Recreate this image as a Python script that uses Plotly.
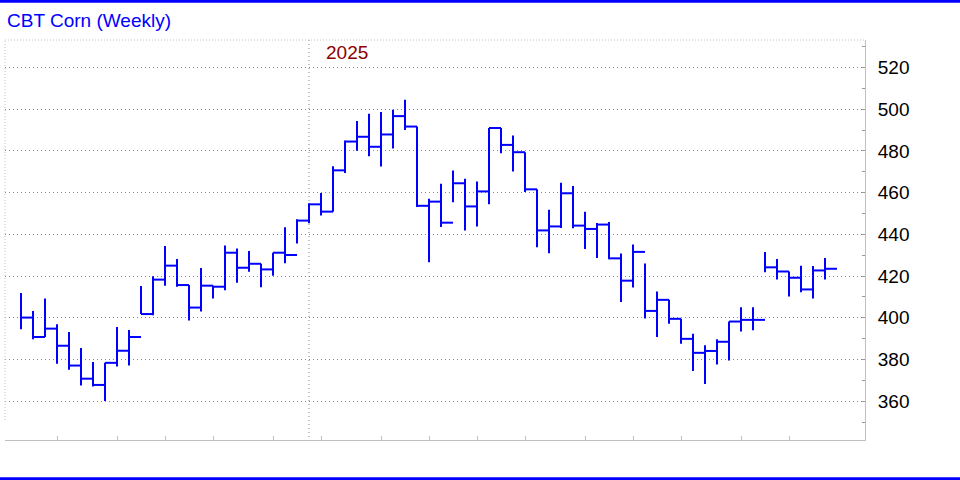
import plotly.graph_objects as go

# Weekly HLC bars (week index 0..67)
high = [411.9, 403.3, 409.3, 396.9, 393.2, 385.5, 378.8, 378.5, 395.6, 394.2,
        415.2, 419.9, 434.4, 428.2, 415.7, 423.9, 415.4, 434.7, 433.2, 432.0,
        425.9, 431.2, 443.4, 447.2, 454.9, 459.8, 472.7, 485.0, 494.4, 497.8,
        498.7, 499.7, 504.5, 491.7, 457.1, 464.3, 470.6, 466.7, 465.3, 491.0,
        491.0, 487.4, 479.4, 461.6, 451.8, 464.8, 463.2, 450.9, 445.5, 445.9,
        430.8, 435.1, 426.0, 412.6, 408.6, 399.5, 392.4, 386.8, 389.7, 398.2,
        405.1, 405.1, 431.5, 428.2, 422.2, 425.0, 424.8, 428.7]
low = [394.5, 389.7, 390.8, 378.0, 375.1, 367.5, 367.0, 360.1, 376.7, 377.1,
       401.8, 401.2, 415.4, 414.9, 398.7, 403.0, 409.2, 413.2, 416.8, 422.1,
       414.6, 420.2, 426.1, 435.6, 445.3, 449.1, 450.9, 469.4, 480.1, 477.4,
       472.6, 481.2, 490.0, 453.1, 426.6, 443.5, 455.4, 441.9, 443.8, 454.4,
       478.9, 470.2, 460.3, 433.8, 430.9, 443.0, 442.9, 433.0, 428.7, 428.1,
       407.6, 414.5, 399.6, 390.8, 397.1, 387.5, 374.5, 368.3, 377.6, 379.5,
       393.4, 394.0, 421.8, 418.4, 410.2, 412.3, 409.3, 418.4]
close = [400.1, 390.8, 394.8, 386.6, 377.1, 370.8, 367.8, 378.4, 384.2, 390.8,
         401.8, 418.3, 425.0, 415.7, 404.9, 415.4, 414.9, 431.2, 424.0, 425.9,
         423.2, 431.2, 430.1, 446.6, 454.4, 450.9, 470.7, 484.5, 486.8, 482.0,
         487.9, 496.7, 491.7, 453.7, 455.7, 445.6, 464.5, 453.4, 460.6, 491.0,
         482.9, 479.4, 461.6, 441.9, 443.8, 459.7, 444.2, 442.6, 444.7, 428.5,
         417.8, 431.6, 403.3, 408.6, 399.5, 389.9, 383.2, 384.1, 388.5, 398.2,
         399.0, 399.0, 424.2, 422.2, 419.2, 413.6, 422.7, 423.5]

month_ticks = [3, 8, 12, 16, 21, 25, 30, 34, 38, 42, 47, 51, 55, 60, 64]
year_marks = [24]
year_labels = ["2025"]
price_ticks = [360, 380, 400, 420, 440, 460, 480, 500, 520]
title_text = "CBT Corn (Weekly)"

# Build HLC bar segments: vertical high-low, close tick to the right
xs, ys = [], []
for i, (h, l, c) in enumerate(zip(high, low, close)):
    xs += [i, i, None, i, i + 1, None]
    ys += [l, h, None, c, c, None]

fig = go.Figure()
fig.add_trace(go.Scatter(x=xs, y=ys, mode="lines",
                         line=dict(color="#0000ff", width=2),
                         hoverinfo="skip", showlegend=False))

FONT = "Arial, Liberation Sans, sans-serif"
dot = "1px,3px"

fig.update_layout(
    width=960, height=480,
    margin=dict(l=5, r=95, t=40, b=40, pad=0),
    plot_bgcolor="white", paper_bgcolor="white",
    showlegend=False,
    font=dict(family=FONT, size=19, color="black"),
    xaxis=dict(range=[-1.333, 70.333], showgrid=False, zeroline=False,
               showline=True, linecolor="#c0c0c0", linewidth=1,
               ticks="inside", ticklen=4, tickcolor="#c0c0c0",
               tickvals=month_ticks, showticklabels=False),
    yaxis=dict(side="right", range=[341.4, 533.2], tickvals=price_ticks,
               ticks="inside", ticklen=3, tickcolor="#999999",
               showline=True, linecolor="#c0c0c0", linewidth=1,
               showgrid=True, gridcolor="#888888", gridwidth=1, griddash=dot,
               zeroline=False, ticklabelstandoff=8,
               tickfont=dict(family=FONT, size=19, color="black"),
               minor=dict(dtick=10, tick0=0, ticks="inside", ticklen=3,
                          tickcolor="#999999", showgrid=False)),
)

shapes = []
for xm in year_marks:
    shapes.append(dict(type="line", xref="x", yref="paper", x0=xm, x1=xm,
                       y0=0.0075, y1=1, layer="below",
                       line=dict(color="#888888", width=1, dash=dot)))
# light dotted plot frame (left, top)
shapes.append(dict(type="line", xref="paper", yref="paper", x0=0, x1=0,
                   y0=0.05, y1=1, line=dict(color="#c0c0c0", width=1, dash="1px,2px")))
shapes.append(dict(type="line", xref="paper", yref="paper", x0=0, x1=1,
                   y0=1, y1=1, line=dict(color="#c0c0c0", width=1, dash="1px,2px")))
# blue frame lines top & bottom of page
shapes.append(dict(type="line", xref="paper", yref="paper", x0=-5 / 860, x1=955 / 860,
                   y0=(440 - 1.3) / 400, y1=(440 - 1.3) / 400,
                   line=dict(color="#0000ff", width=3)))
shapes.append(dict(type="line", xref="paper", yref="paper", x0=-5 / 860, x1=955 / 860,
                   y0=(440 - 478.8) / 400, y1=(440 - 478.8) / 400,
                   line=dict(color="#0000ff", width=3)))
fig.update_layout(shapes=shapes)

annotations = [dict(text=title_text, xref="paper", yref="paper", x=0, y=(440 - 21) / 400,
                    xanchor="left", yanchor="middle", showarrow=False,
                    font=dict(family=FONT, size=19, color="#0000ff"))]
for xm, lab in zip(year_marks, year_labels):
    annotations.append(dict(text=lab, xref="x", yref="paper", x=xm, y=(440 - 53) / 400,
                            xanchor="left", yanchor="middle", xshift=15, showarrow=False,
                            font=dict(family=FONT, size=19, color="#8b0000")))
fig.update_layout(annotations=annotations)

fig.write_html("out.html",
               config={"displayModeBar": False},
               post_script="document.body.style.margin='0';document.body.style.padding='0';"
                           "document.body.style.overflow='hidden';")
